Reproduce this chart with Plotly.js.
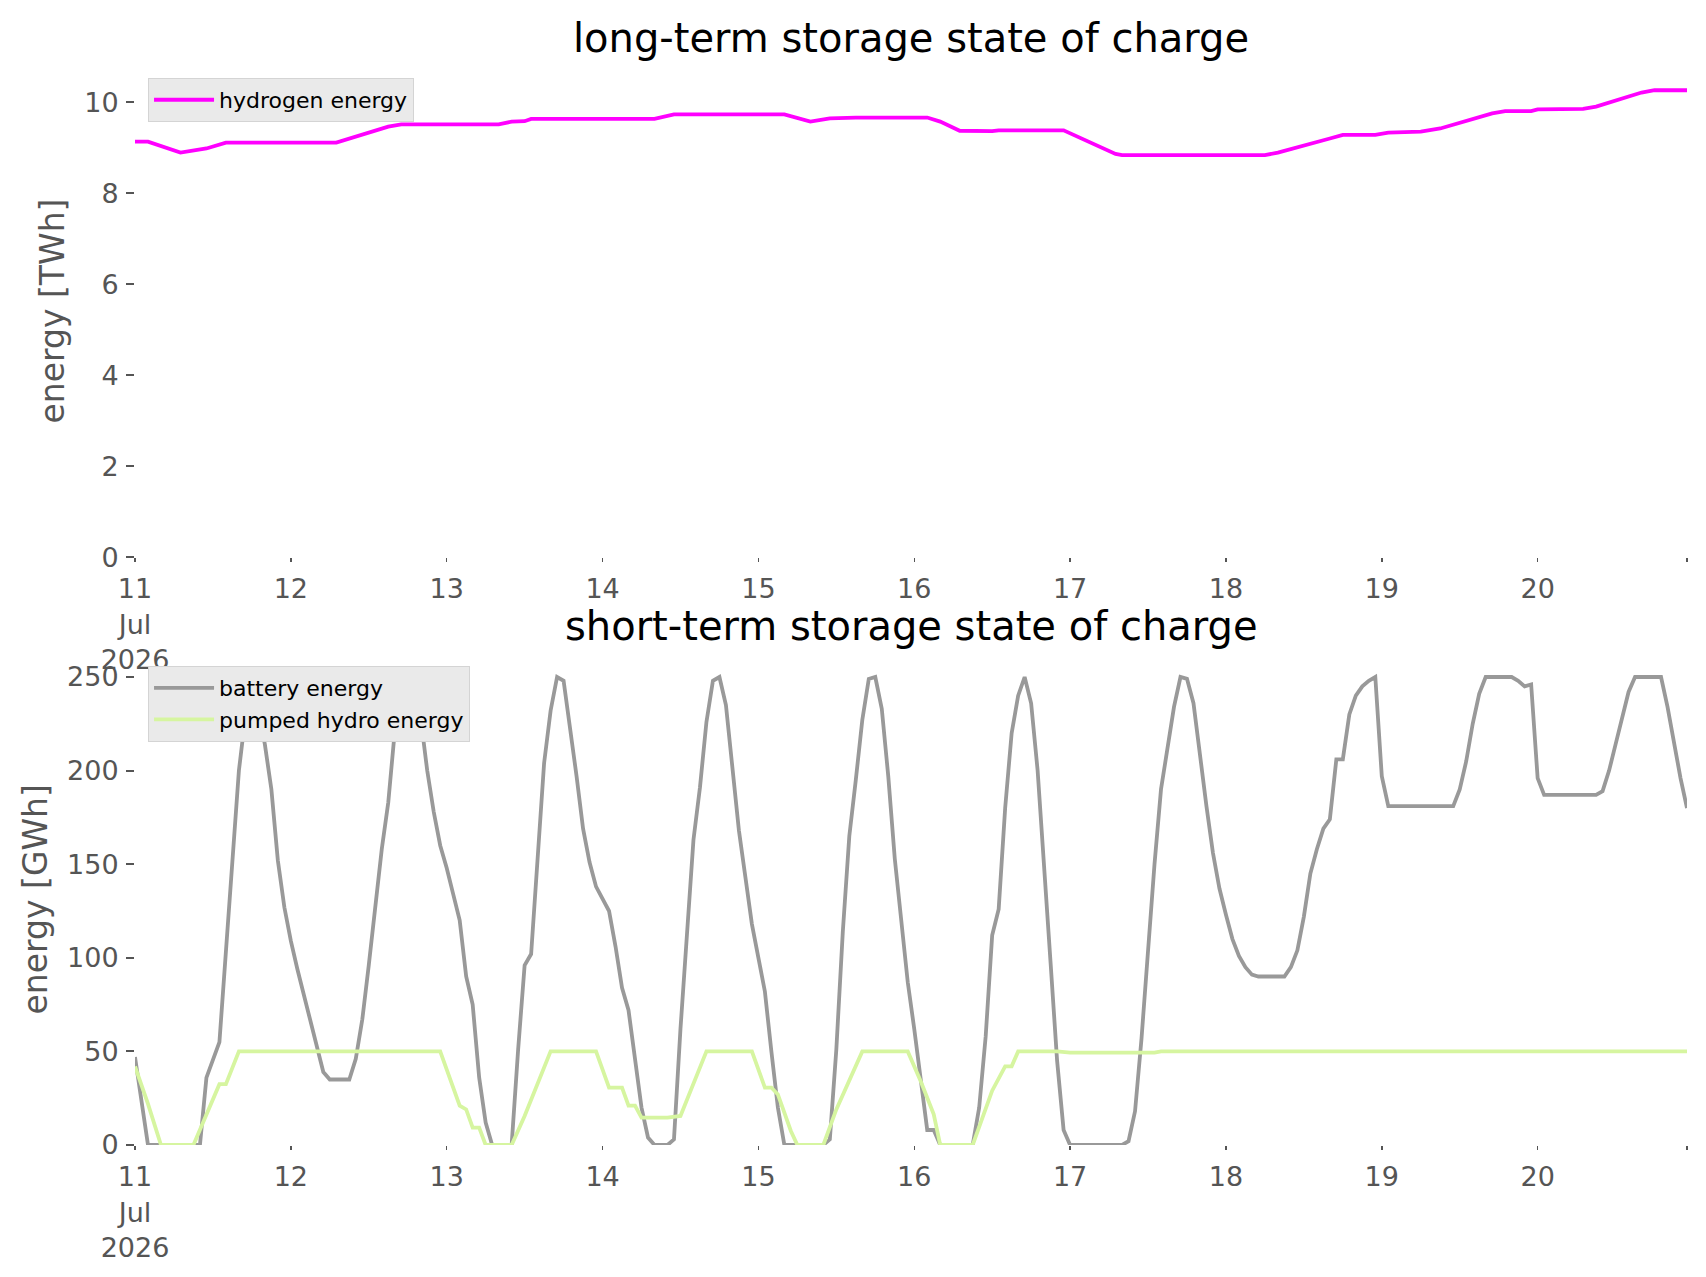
<!DOCTYPE html>
<html>
<head>
<meta charset="utf-8">
<script src="https://cdn.plot.ly/plotly-3.0.1.min.js"></script>
<style>
  html, body { margin: 0; padding: 0; background: #ffffff; }
  #chart { width: 1706px; height: 1277px; }
</style>
</head>
<body>
<div id="chart"></div>
<script>
const hydrogen_hours = [0, 2, 7, 11, 14, 31, 39, 41, 56, 58, 60, 61, 80, 83, 100, 104, 107, 111,
    122, 124, 127, 132, 133, 143, 151, 152, 174, 176, 184, 186, 191, 193, 198, 201, 209, 211,
    215, 216, 223, 225, 232, 234, 239];
const hydrogen_twh = [9.13, 9.13, 8.89, 8.98, 9.11, 9.11, 9.46, 9.51, 9.51, 9.57, 9.58, 9.63, 9.63,
    9.73, 9.73, 9.57, 9.64, 9.66, 9.66, 9.57, 9.37, 9.36, 9.38, 9.38, 8.86, 8.835, 8.835, 8.89,
    9.20, 9.28, 9.28, 9.33, 9.35, 9.42, 9.75, 9.80, 9.80, 9.84, 9.85, 9.90, 10.21, 10.26, 10.26];

const battery_hours = [0, 1, 2, 10, 11, 13, 14, 15, 16, 17, 18, 19, 20, 21, 22, 23, 24, 25, 26, 27,
    28, 29, 30, 33, 34, 35, 36, 37, 38, 39, 40, 41, 42, 43, 44, 45, 46, 47, 48, 49, 50, 51, 52, 53,
    54, 55, 58, 59, 60, 61, 62, 63, 64, 65, 66, 67, 68, 69, 70, 71, 72, 73, 74, 75, 76, 77, 78, 79,
    80, 82, 83, 84, 85, 86, 87, 88, 89, 90, 91, 92, 93, 94, 95, 96, 97, 98, 99, 100, 106, 107, 108,
    109, 110, 111, 112, 113, 114, 115, 116, 117, 118, 119, 120, 121, 122, 123, 124, 129, 130, 131,
    132, 133, 134, 135, 136, 137, 138, 139, 140, 141, 142, 143, 144, 152, 153, 154, 155, 156, 157,
    158, 159, 160, 161, 162, 163, 164, 165, 166, 167, 168, 169, 170, 171, 172, 173, 177, 178, 179,
    180, 181, 182, 183, 184, 185, 186, 187, 188, 189, 190, 191, 192, 193, 203, 204, 205, 206, 207,
    208, 212, 213, 214, 215, 216, 217, 225, 226, 227, 228, 229, 230, 231, 235, 236, 237, 238, 239];
const battery_gwh = [47, 22, 0, 0, 36, 55, 104, 153, 200, 229, 250, 232, 214, 190, 152, 127, 109,
    94, 80, 67, 53, 39, 35, 35, 46, 67, 96, 126, 158, 183, 221, 221, 250, 249, 228, 200, 178, 160,
    148, 134, 120, 90, 75, 36, 12, 0, 0, 51, 96, 102, 152, 204, 232, 250, 248, 224, 197, 169, 151,
    138, 132, 125, 106, 84, 72, 47, 20, 4, 0, 0, 3, 62, 115, 163, 191, 226, 248, 250, 235, 199,
    168, 143, 118, 100, 82, 50, 20, 0, 0, 3, 51, 114, 165, 195, 227, 249, 250, 233, 197, 153, 120,
    87, 62, 34, 8, 8, 0, 0, 20, 58, 112, 126, 180, 220, 240, 250, 236, 200, 152, 97, 45, 8, 0, 0,
    2, 18, 57, 105, 150, 190, 212, 234, 250, 249, 236, 207, 181, 156, 137, 123, 110, 101, 95, 91,
    90, 90, 95, 104, 122, 145, 158, 169, 174, 206, 206, 230, 240, 245, 248, 250, 197, 181, 181,
    190, 205, 225, 241, 250, 250, 248, 245, 246, 196, 187, 187, 189, 200, 214, 229, 242, 250, 250,
    234, 215, 196, 180];

const hydro_hours = [0, 2, 4, 9, 13, 14, 16, 47, 50, 51, 52, 53, 54, 58, 60, 64, 71, 73, 75, 76, 77,
    78, 82, 84, 88, 95, 97, 98, 99, 101, 102, 106, 108, 112, 119, 121, 123, 124, 129, 132, 134,
    135, 136, 142, 144, 157, 158, 239];
const hydro_gwh = [42, 22, 0, 0, 32.5, 32.5, 50, 50, 21, 19, 9.3, 9.3, 0, 0, 15.5, 50, 50, 30.7,
    30.7, 21, 21, 14.6, 14.6, 15.5, 50, 50, 30.7, 30.7, 27, 7.5, 0, 0, 19, 50, 50, 34, 16.4, 0, 0,
    29, 42, 42, 50, 50, 49.3, 49.3, 50, 50];

const tick_hours = [0, 24, 48, 72, 96, 120, 144, 168, 192, 216, 239];
const tick_labels = ['11<br>Jul<br>2026', '12', '13', '14', '15', '16', '17', '18', '19', '20', ''];

class storage_chart {

    constructor(view) {
        this.view = view;
        this.start = Date.UTC(2026, 6, 11);
        this.font = 'DejaVu Sans';
    }

    to_time(hours) { return hours.map(h => this.start + h * 3600 * 1000); }

    line(hours, values, name, color, axis, legend) {
        return {
            x: this.to_time(hours),
            y: values,
            type: 'scatter',
            mode: 'lines',
            name: name,
            line: { color: color, width: 3.8 },
            xaxis: axis.x,
            yaxis: axis.y,
            legend: legend,
            showlegend: true,
            hoverinfo: 'skip'
        };
    }

    x_axis(anchor) {
        return {
            type: 'date',
            anchor: anchor,
            range: this.to_time([0, 239]),
            tickmode: 'array',
            tickvals: this.to_time(tick_hours),
            ticktext: tick_labels,
            ticks: 'outside',
            ticklen: 4,
            tickwidth: 1.5,
            tickcolor: '#555555',
            ticklabelstandoff: 4,
            tickfont: { family: this.font, size: 27, color: '#555555' },
            showgrid: false,
            zeroline: false,
            showline: false
        };
    }

    y_axis(domain, range, dtick, title) {
        return {
            domain: domain,
            range: range,
            dtick: dtick,
            ticks: 'outside',
            ticklen: 8,
            tickwidth: 2,
            tickcolor: '#555555',
            ticklabelstandoff: 2,
            tickfont: { family: this.font, size: 27, color: '#555555' },
            showgrid: false,
            zeroline: false,
            showline: false,
            title: { text: title, standoff: 9, font: { family: this.font, size: 33, color: '#555555' } }
        };
    }

    legend_box(y) {
        return {
            x: 0.0084, y: y, xanchor: 'left', yanchor: 'top',
            bgcolor: '#eaeaea', bordercolor: '#d4d4d4', borderwidth: 1,
            font: { family: this.font, size: 22, color: '#000000' },
            itemwidth: 60
        };
    }

    subplot_title(text, y) {
        return {
            text: text, xref: 'paper', yref: 'paper', x: 0.5, y: y,
            xanchor: 'center', yanchor: 'middle', showarrow: false,
            font: { family: this.font, size: 40, color: '#000000' }
        };
    }

    draw() {
        const top = { x: 'x', y: 'y' };
        const bottom = { x: 'x2', y: 'y2' };
        const traces = [
            this.line(hydrogen_hours, hydrogen_twh, 'hydrogen energy', '#ff00ff', top, 'legend'),
            this.line(battery_hours, battery_gwh, 'battery energy', '#999999', bottom, 'legend2'),
            this.line(hydro_hours, hydro_gwh, 'pumped hydro energy', '#d6f5a0', bottom, 'legend2')
        ];
        const layout = {
            width: 1706, height: 1277,
            margin: { l: 135, r: 19, t: 65, b: 132, pad: 0 },
            paper_bgcolor: '#ffffff',
            plot_bgcolor: '#ffffff',
            font: { family: this.font },
            showlegend: true,
            xaxis: this.x_axis('y'),
            yaxis: this.y_axis([0.5444, 1], [0, 10.815], 2, 'energy [TWh]'),
            xaxis2: this.x_axis('y2'),
            yaxis2: this.y_axis([0, 0.455], [0, 262.5], 50, 'energy [GWh]'),
            legend: this.legend_box(0.988),
            legend2: this.legend_box(0.4435),
            annotations: [
                this.subplot_title('long-term storage state of charge', 1.025),
                this.subplot_title('short-term storage state of charge', 0.4806)
            ]
        };
        Plotly.newPlot(this.view, traces, layout, { displayModeBar: false, staticPlot: true });
    }
}

new storage_chart(document.getElementById('chart')).draw();
</script>
</body>
</html>
